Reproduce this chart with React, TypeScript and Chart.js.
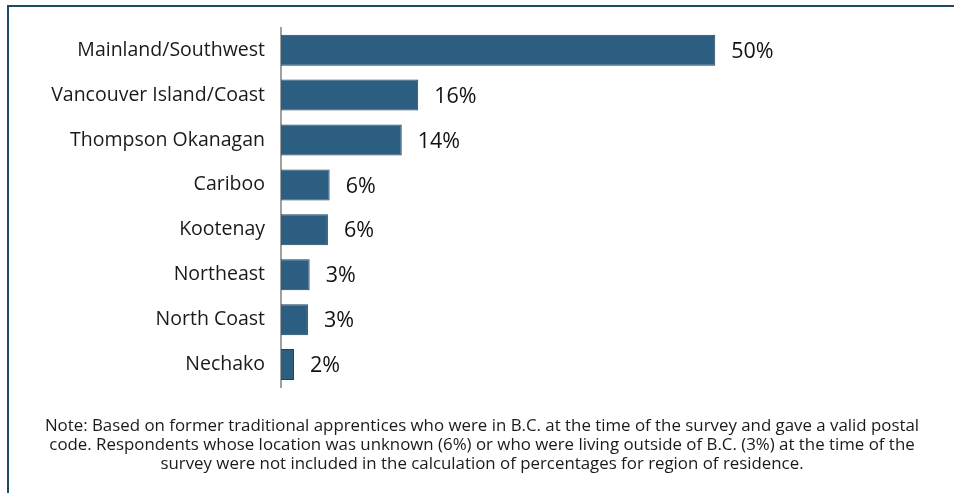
import { useEffect, useRef } from "react";
import { Chart, registerables } from "chart.js";

Chart.register(...registerables);

const categories = [
  "Mainland/Southwest",
  "Vancouver Island/Coast",
  "Thompson Okanagan",
  "Cariboo",
  "Kootenay",
  "Northeast",
  "North Coast",
  "Nechako",
];
const shares = [50, 15.8, 13.9, 5.6, 5.4, 3.3, 3.1, 1.5];
const shareLabels = ["50%", "16%", "14%", "6%", "6%", "3%", "3%", "2%"];
const noteLines = [
  "Note: Based on former traditional apprentices who were in B.C. at the time of the survey and gave a valid postal",
  "code. Respondents whose location was unknown (6%) or who were living outside of B.C. (3%) at the time of the",
  "survey were not included in the calculation of percentages for region of residence.",
];

const FONT = "'Open Sans', sans-serif";

export default function App() {
  const ref = useRef<HTMLCanvasElement | null>(null);

  useEffect(() => {
    if (!ref.current) return;

    const framePlugin = {
      id: "frame",
      beforeDraw(chart: any) {
        const ctx = chart.ctx;
        ctx.save();
        ctx.fillStyle = "#ffffff";
        ctx.fillRect(0, 0, chart.width, chart.height);
        ctx.fillStyle = "#1d4b61";
        ctx.fillRect(7, 5, 2, chart.height - 5);
        ctx.fillRect(7, 5, chart.width - 7, 2);
        ctx.restore();
      },
    };

    const valueLabelPlugin = {
      id: "valueLabels",
      afterDatasetsDraw(chart: any) {
        const ctx = chart.ctx;
        const meta = chart.getDatasetMeta(0);
        ctx.save();
        ctx.font = `21.5px ${FONT}`;
        ctx.fillStyle = "#111111";
        ctx.textAlign = "left";
        ctx.textBaseline = "middle";
        meta.data.forEach((bar: any, i: number) => {
          ctx.fillText(shareLabels[i], bar.x + 16, bar.y + 1.5);
        });
        ctx.restore();
      },
    };

    const notePlugin = {
      id: "note",
      afterDraw(chart: any) {
        const ctx = chart.ctx;
        ctx.save();
        ctx.font = `16.85px ${FONT}`;
        ctx.fillStyle = "#1a1a1a";
        ctx.textAlign = "center";
        ctx.textBaseline = "middle";
        noteLines.forEach((line, i) => {
          ctx.fillText(line, 482, 426.5 + i * 19);
        });
        ctx.restore();
      },
    };

    const chart = new Chart(ref.current, {
      type: "bar",
      data: {
        labels: categories,
        datasets: [
          {
            data: shares,
            backgroundColor: "#2c5e81",
            borderColor: "#1c435f",
            borderWidth: 1,
            categoryPercentage: 1,
            barPercentage: 0.69,
          },
        ],
      },
      options: {
        indexAxis: "y",
        responsive: false,
        animation: false,
        devicePixelRatio: 1,
        layout: { padding: { top: 25, bottom: 106, left: 0, right: 65 } },
        plugins: {
          legend: { display: false },
          tooltip: { enabled: false },
        },
        scales: {
          x: {
            display: false,
            min: 0,
            max: 70,
          },
          y: {
            afterFit(scale: any) {
              scale.width = 281;
            },
            grid: { display: false, drawTicks: false },
            border: { display: true, color: "#a0a0a0", width: 2 },
            ticks: {
              padding: 16,
              color: "#1a1a1a",
              font: { family: FONT, size: 19.5 },
            },
          },
        },
      },
      plugins: [framePlugin, valueLabelPlugin, notePlugin],
    });

    return () => chart.destroy();
  }, []);

  return (
    <div style={{ position: "absolute", left: 0, top: 0, width: 954, height: 493 }}>
      <canvas ref={ref} width={954} height={493} style={{ display: "block", width: 954, height: 493 }} />
    </div>
  );
}
